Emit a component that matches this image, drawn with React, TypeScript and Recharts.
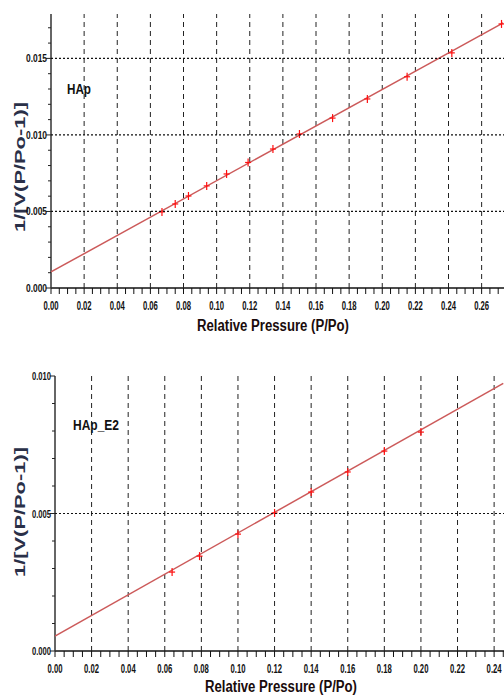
import { ScatterChart, Scatter, XAxis, YAxis } from "recharts";

// HAp (top panel)
const hapX = [0.067, 0.075, 0.083, 0.094, 0.106, 0.119, 0.134, 0.15, 0.17, 0.191, 0.215, 0.242, 0.272];
const hapY = [0.00497, 0.00549, 0.00601, 0.00667, 0.00745, 0.0082, 0.00908, 0.01006, 0.0111, 0.01235, 0.0138, 0.01536, 0.01725];
const hapFitX = [0, 0.273];
const hapFitY = [0.00105, 0.01732];

// HAp_E2 (bottom panel)
const e2X = [0.064, 0.079, 0.1, 0.12, 0.14, 0.16, 0.18, 0.2];
const e2Y = [0.00287, 0.00345, 0.00425, 0.00502, 0.00578, 0.00651, 0.00727, 0.00796];
const e2FitX = [0, 0.245];
const e2FitY = [0.000545, 0.00973];

// grid positions (major x ticks)
const xGrid = [0.02, 0.04, 0.06, 0.08, 0.1, 0.12, 0.14, 0.16, 0.18, 0.2, 0.22, 0.24, 0.26];

const steps = (step: number, max: number) =>
  Array.from({ length: Math.floor(max / step + 1e-6) + 1 }, (_, i) => +(i * step).toFixed(4));

const FONT = "'Liberation Sans Narrow', 'Liberation Sans', Arial, sans-serif";

const isMajor = (v: number, step: number) => Math.abs(v / step - Math.round(v / step)) < 1e-6;

const toPts = (xs: number[], ys: number[]) => xs.map((x, i) => ({ x, y: ys[i] }));

// bottom axis: small ticks everywhere, labels on majors
const XTick = (props: any) => {
  const { x, y, payload } = props;
  const v = payload.value;
  return (
    <g>
      <line x1={x} y1={y} x2={x} y2={y + 6} stroke="#111" strokeWidth={1} />
      {isMajor(v, 0.02) && (
        <text x={x} y={y + 22} textAnchor="middle" fontSize={13} fontWeight="bold" fontFamily={FONT}
          textLength={15} lengthAdjust="spacingAndGlyphs" fill="#111">
          {v.toFixed(2)}
        </text>
      )}
    </g>
  );
};

const makeYTick = (labelW: number, gridW: number, yMax: number) => (props: any) => {
  const { x, y, payload } = props;
  const v = payload.value;
  const major = isMajor(v, 0.005);
  return (
    <g>
      {major && v > 0 && v < yMax - 1e-9 && (
        <line x1={x} y1={y} x2={x + gridW} y2={y} stroke="#111" strokeWidth={1.2} strokeDasharray="2 2" />
      )}
      <line x1={x - (major ? 5 : 3)} y1={y} x2={x} y2={y} stroke="#222" strokeWidth={1} />
      {major && (
        <text x={x - 4} y={y + 4} textAnchor="end" fontSize={11} fontWeight="bold" fontFamily={FONT}
          textLength={labelW} lengthAdjust="spacingAndGlyphs" fill="#111">
          {v.toFixed(3)}
        </text>
      )}
    </g>
  );
};

const Cross = (props: any) => {
  const { cx, cy } = props;
  return (
    <g stroke="#ff1010" strokeWidth={1.2}>
      <line x1={cx} y1={cy - 4} x2={cx} y2={cy + 4} />
      <line x1={cx - 3} y1={cy} x2={cx + 3} y2={cy} />
    </g>
  );
};

const Nothing = () => <g />;

const Txt = (props: any) => {
  const { tx, ty, text, len, size, rotate, color } = props;
  return (
    <text x={tx} y={ty} textAnchor="middle" fontSize={size} fontWeight="bold" fontFamily={FONT}
      textLength={len} lengthAdjust="spacingAndGlyphs" fill={color || "#111"}
      dominantBaseline={rotate ? "central" : undefined}
      transform={rotate ? `rotate(-90, ${tx}, ${ty})` : undefined}>
      {text}
    </text>
  );
};

// y title plus the sample name inside the plot
const YLabels = (props: any) => {
  const { yTitleY, name, nameX, nameY, nameW } = props;
  return (
    <g>
      <Txt tx={19} ty={yTitleY} text="1/[V(P/Po-1)]" len={130} size={15} rotate color="#2a3048" />
      <Txt tx={nameX} ty={nameY} text={name} len={nameW} size={15} />
    </g>
  );
};

interface PanelProps {
  height: number;
  top: number;
  marginTop: number;
  yAxisW: number;
  xAxisH: number;
  xMax: number;
  yMax: number;
  points: { x: number; y: number }[];
  fit: { x: number; y: number }[];
  yLabelW: number;
  name: string;
  nameX: number;
  nameY: number;
  nameW: number;
  titleX: number;
  titleY: number;
  yTitleY: number;
  topBorder: string;
}

function Panel(p: PanelProps) {
  const gridW = 504 - p.yAxisW;
  const YTick = makeYTick(p.yLabelW, gridW, p.yMax);
  const gridCols = xGrid.filter((v) => v < p.xMax);
  return (
    <div style={{ position: "absolute", left: 0, top: p.top }}>
      <ScatterChart width={504} height={p.height} margin={{ top: p.marginTop, right: 0, bottom: 0, left: 0 }}>
        <XAxis
          type="number"
          dataKey="x"
          domain={[0, p.xMax]}
          allowDataOverflow
          ticks={steps(0.005, p.xMax)}
          interval={0}
          tick={<XTick />}
          tickLine={false}
          tickSize={0}
          tickMargin={0}
          height={p.xAxisH}
          axisLine={{ stroke: "#111", strokeWidth: 1.5 }}
          label={<Txt tx={p.titleX} ty={p.titleY} text="Relative Pressure (P/Po)" len={152} size={16} color="#1a0c0c" />}
        />
        <XAxis
          xAxisId="top"
          orientation="top"
          type="number"
          dataKey="x"
          domain={[0, p.xMax]}
          allowDataOverflow
          tick={false}
          tickLine={false}
          height={0}
          axisLine={{ stroke: p.topBorder, strokeWidth: 2 }}
        />
        <YAxis
          type="number"
          dataKey="y"
          domain={[0, p.yMax]}
          allowDataOverflow
          ticks={steps(0.001, p.yMax)}
          interval={0}
          tick={<YTick />}
          tickLine={false}
          tickSize={0}
          tickMargin={0}
          width={p.yAxisW}
          axisLine={{ stroke: "#333", strokeWidth: 1.5 }}
          label={<YLabels yTitleY={p.yTitleY} name={p.name} nameX={p.nameX} nameY={p.nameY} nameW={p.nameW} />}
        />
        {gridCols.map((v) => (
          <Scatter
            key={"g" + v}
            data={[{ x: v, y: 0 }, { x: v, y: p.yMax }]}
            line={{ stroke: "#222", strokeWidth: 1, strokeDasharray: "5 4" }}
            shape={<Nothing />}
            isAnimationActive={false}
          />
        ))}
        <Scatter data={p.fit} line={{ stroke: "#cc5a5a", strokeWidth: 1.5 }} shape={<Nothing />} isAnimationActive={false} />
        <Scatter data={p.points} shape={<Cross />} isAnimationActive={false} />
      </ScatterChart>
    </div>
  );
}

export default function App() {
  return (
    <div style={{ position: "absolute", left: 0, top: 0, width: 504, height: 698, background: "#fff", overflow: "hidden" }}>
      <Panel
        top={0}
        height={340}
        marginTop={14}
        yAxisW={51}
        xAxisH={52}
        xMax={0.2735}
        yMax={0.0179}
        points={toPts(hapX, hapY)}
        fit={toPts(hapFitX, hapFitY)}
        yLabelW={21}
        name="HAp"
        nameX={79}
        nameY={94}
        nameW={24}
        titleX={273}
        titleY={331}
        yTitleY={167}
        topBorder="#666"
      />
      <Panel
        top={340}
        height={358}
        marginTop={36}
        yAxisW={55}
        xAxisH={47}
        xMax={0.2454}
        yMax={0.01}
        points={toPts(e2X, e2Y)}
        fit={toPts(e2FitX, e2FitY)}
        yLabelW={19}
        name="HAp_E2"
        nameX={96}
        nameY={90}
        nameW={46}
        titleX={281}
        titleY={352}
        yTitleY={172}
        topBorder="#222"
      />
    </div>
  );
}
